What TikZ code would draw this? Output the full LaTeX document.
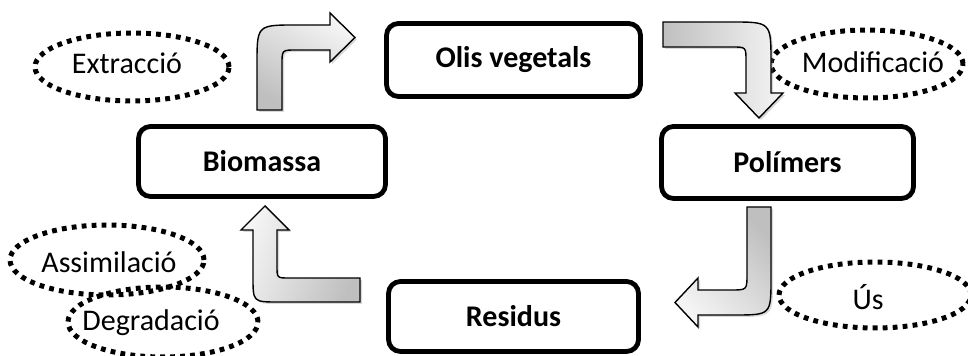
\documentclass[tikz,border=0pt]{standalone}
\usepackage{fontspec}
\setmainfont{Carlito}
\usetikzlibrary{positioning, shadows}

\begin{document}
\begin{tikzpicture}[x=0.5pt, y=-0.5pt,
		stage/.style={draw, rectangle, rounded corners=6pt, line width=2.4pt, fill=white, font=\bfseries\fontsize{15}{17}\selectfont},
		tag/.style={inner sep=0pt, font=\fontsize{15}{17}\selectfont},
		ring/.style={line width=2.5pt, dash pattern=on 2.4pt off 2.6pt},
		bend/.style={draw=black, line width=0.7pt, top color=gray!8, bottom color=gray!50, shading angle=#1, drop shadow={opacity=0.3, shadow xshift=1pt, shadow yshift=-1pt}}]
		\useasboundingbox (0, 0) rectangle (968, 356);

		\node[stage, minimum width=127pt, minimum height=36.5pt] (olis) at (513.5, 60) {Olis vegetals};
		\node[stage, minimum width=123.5pt, minimum height=35pt] (biomassa) at (262, 161.5) {Biomassa};
		\node[stage, minimum width=126pt, minimum height=36pt] (polimers) at (787.5, 162.5) {Polímers};
		\node[stage, minimum width=125pt, minimum height=35pt] (residus) at (513.5, 316.5) {Residus};

		\node[tag] (extraccio) at (127, 63) {Extracció};
		\node[tag] (modificacio) at (873, 62) {Modificació};
		\node[tag] (assimilacio) at (109, 262) {Assimilació};
		\node[tag] (degradacio) at (151, 323) {Degradació};
		\node[tag] (us) at (868, 297) {Ús};

		\draw[ring] (132, 67) ellipse [x radius=48.5pt, y radius=17pt];
		\draw[ring] (867, 64) ellipse [x radius=48pt, y radius=17pt];
		\draw[ring] (107, 260) ellipse [x radius=48.5pt, y radius=17.5pt];
		\draw[ring] (163, 322) ellipse [x radius=47.5pt, y radius=17.5pt];
		\draw[ring] (875, 295) ellipse [x radius=48pt, y radius=16.5pt];

		\path[bend=-30] (257, 110) -- (257, 64) .. controls (257, 25) .. (296, 25) -- (330, 25) -- (330, 13) -- (355, 37.5) -- (330, 62) -- (330, 50) -- (296, 50) .. controls (282, 50) .. (282, 64) -- (282, 110) -- cycle;
		\path[bend=-90] (663, 22) -- (731, 22) .. controls (771, 22) .. (771, 62) -- (771, 93) -- (783, 93) -- (759, 118) -- (735, 93) -- (746, 93) -- (746, 61) .. controls (746, 47) .. (732, 47) -- (663, 47) -- cycle;
		\path[bend=135] (747, 207) -- (771, 207) -- (771, 278) .. controls (771, 315) .. (734, 315) -- (698, 315) -- (698, 327) -- (675, 302.5) -- (698, 278) -- (698, 290) -- (731, 290) .. controls (747, 290) .. (747, 274) -- cycle;
		\path[bend=70] (360, 278) -- (289, 278) .. controls (277, 278) .. (277, 266) -- (277, 230) -- (289, 230) -- (265, 206) -- (241, 230) -- (253, 230) -- (253, 277) .. controls (253, 302) .. (278, 302) -- (360, 302) -- cycle;
	\end{tikzpicture}
\end{document}
